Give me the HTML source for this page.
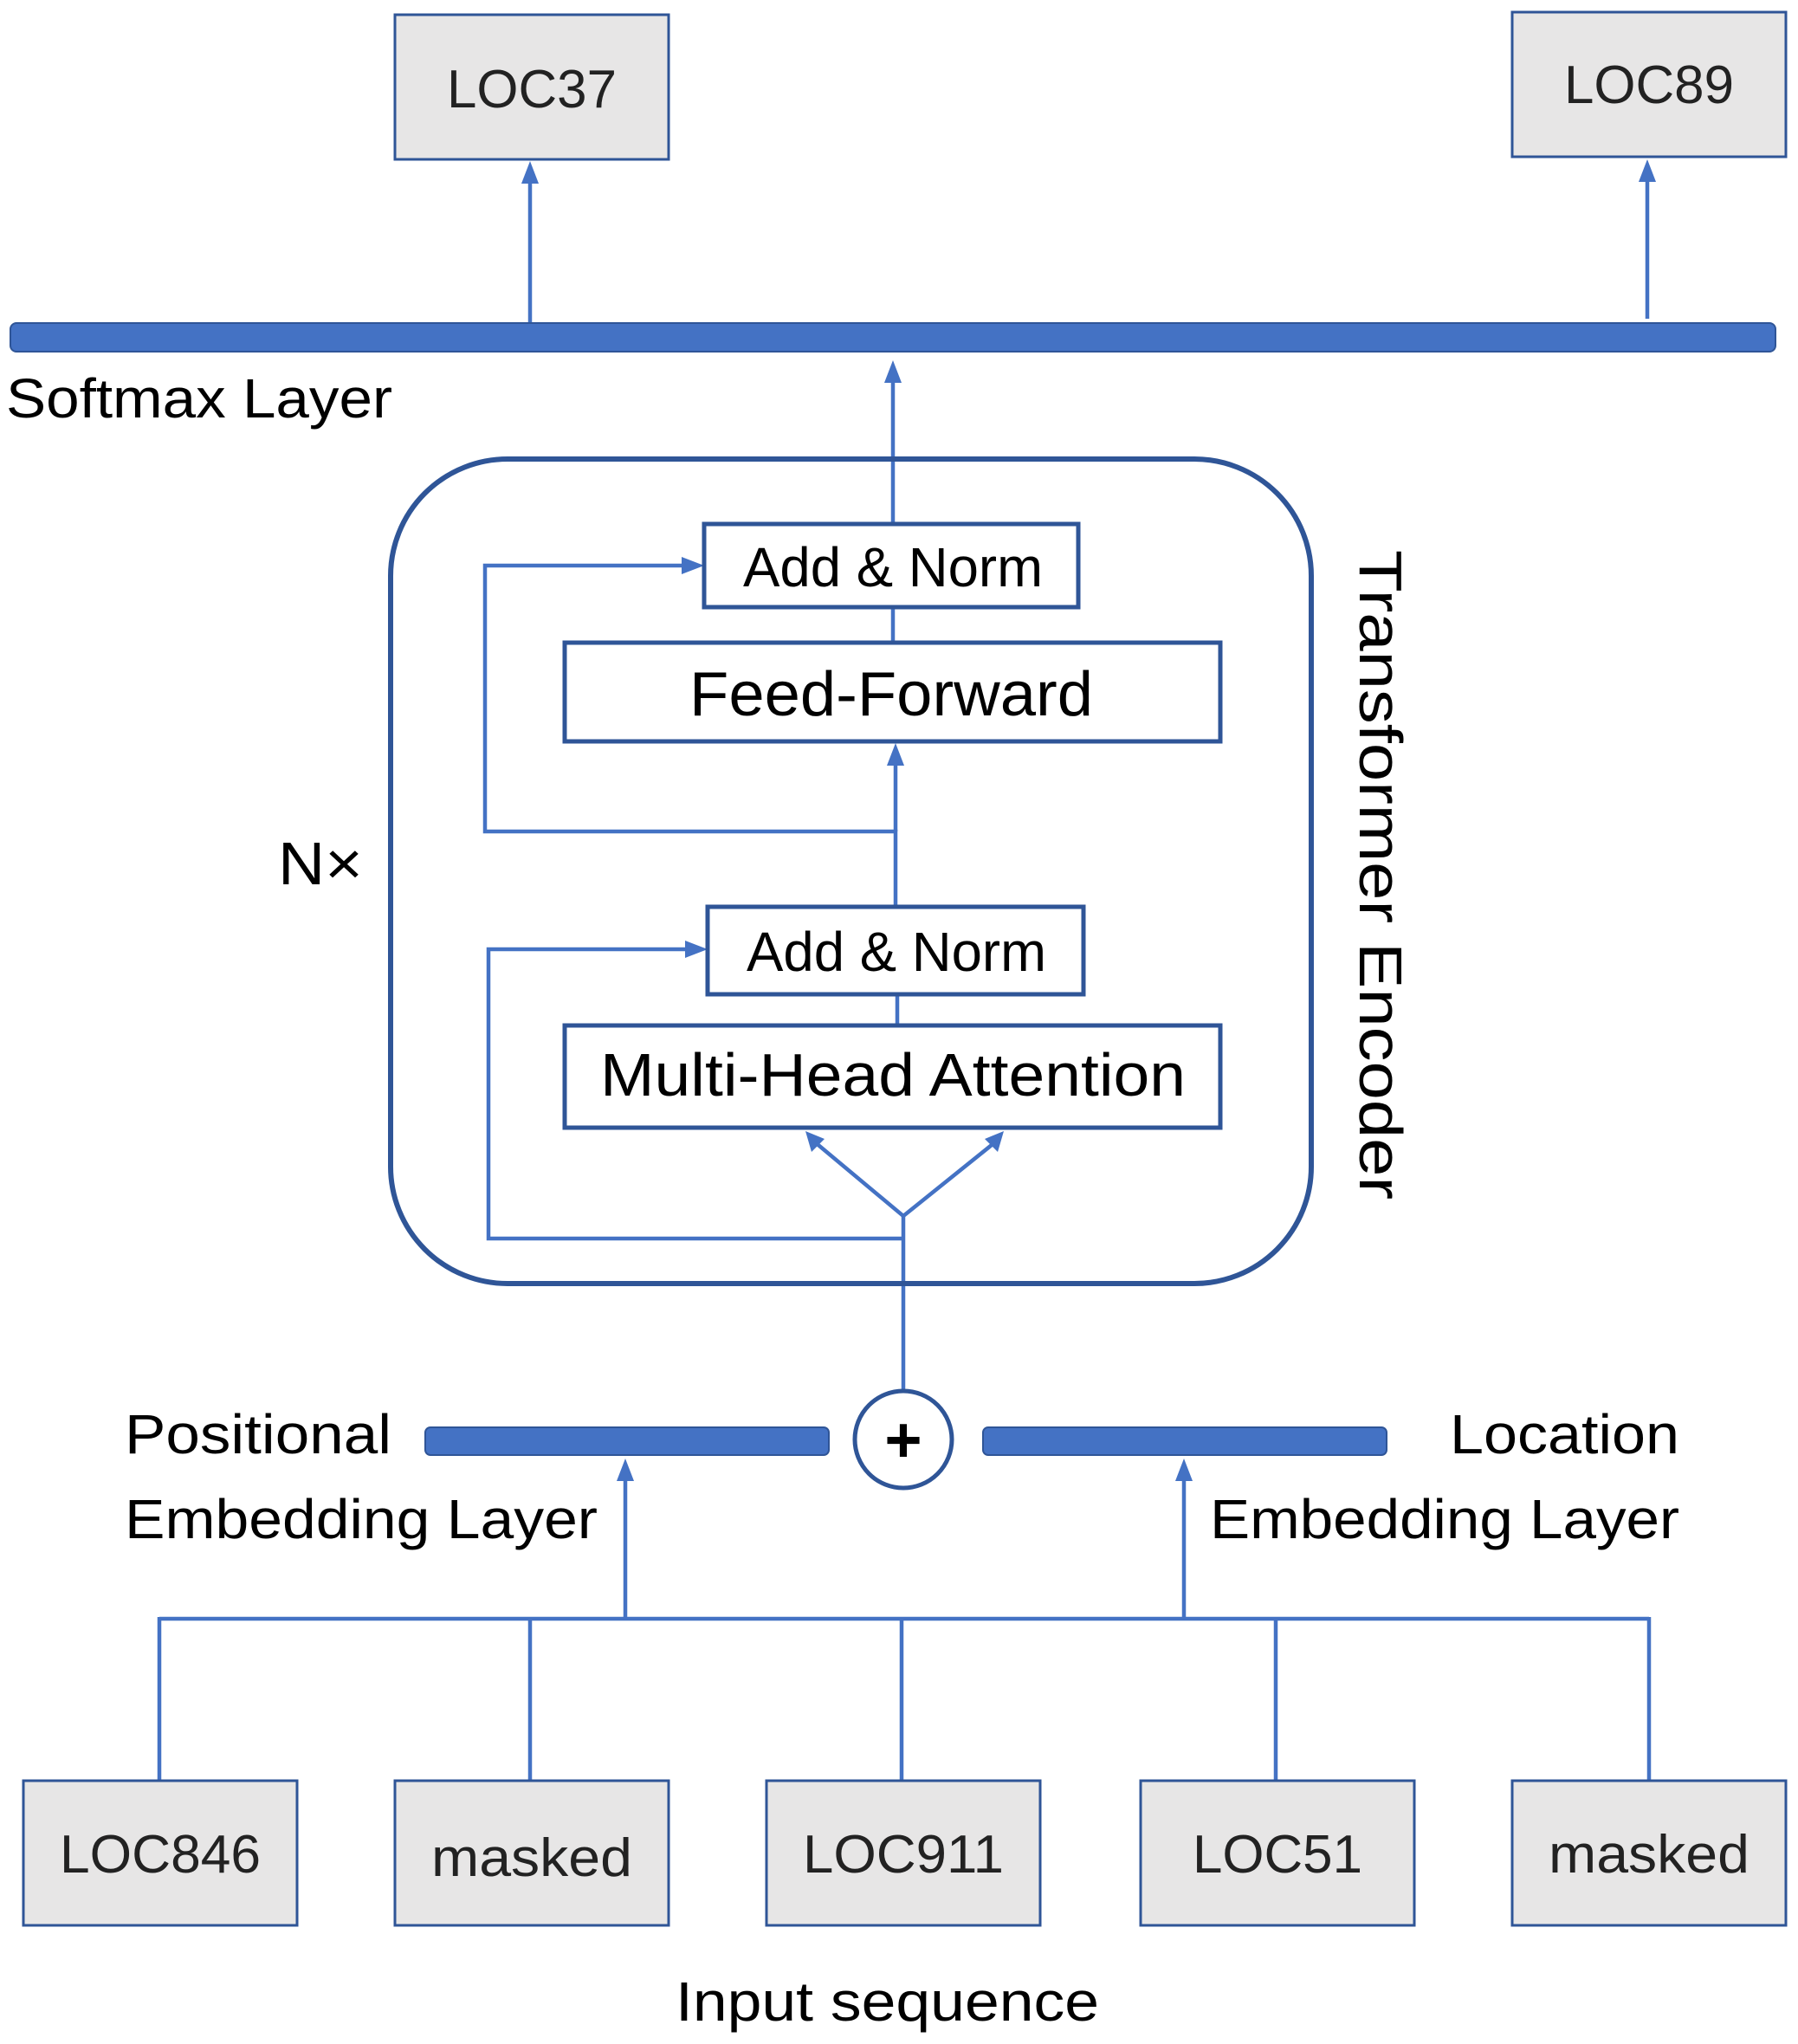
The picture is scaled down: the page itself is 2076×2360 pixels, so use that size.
<!DOCTYPE html>
<html><head><meta charset="utf-8"><style>html,body{margin:0;padding:0;background:#fff}svg{display:block}</style></head>
<body>
<svg width="2076" height="2360" viewBox="0 0 2076 2360" xmlns="http://www.w3.org/2000/svg" font-family="'Liberation Sans', sans-serif" fill="#000">
<defs>
<marker id="a" viewBox="0 0 10 10" refX="9" refY="5" markerWidth="6" markerHeight="6" orient="auto-start-reverse" markerUnits="userSpaceOnUse">
</marker>
</defs>
<g fill="#4472c4">
<!-- arrowheads as polygons -->
<polygon points="612,186 602,212 622,212"/>
<polygon points="1902,184 1892,210 1912,210"/>
<polygon points="1031,416 1021,442 1041,442"/>
<polygon points="1034,858 1024,884 1044,884"/>
<polygon points="813,653 787,643 787,663"/>
<polygon points="817,1096 791,1086 791,1106"/>
<polygon points="722,1684 712,1710 732,1710"/>
<polygon points="1367,1684 1357,1710 1377,1710"/>
<polygon points="930,1306 937,1330 952,1315"/>
<polygon points="1159,1306 1137,1315 1152,1330"/>
</g>
<g stroke="#4472c4" stroke-width="4.5" fill="none">
<line x1="612" y1="372" x2="612" y2="205"/>
<line x1="1902" y1="368" x2="1902" y2="205"/>
<line x1="1031" y1="605" x2="1031" y2="435"/>
<line x1="1031" y1="701" x2="1031" y2="742"/>
<polyline points="1034,1047 1034,960 560,960 560,653 795,653"/>
<line x1="1034" y1="960" x2="1034" y2="878"/>
<line x1="1036" y1="1148" x2="1036" y2="1184"/>
<polyline points="1043,1430 564,1430 564,1096 800,1096"/>
<line x1="1043" y1="1606" x2="1043" y2="1404"/>
<polyline points="940,1318 1043,1404 1150,1318"/>
<line x1="722" y1="1869" x2="722" y2="1700"/>
<line x1="1367" y1="1869" x2="1367" y2="1700"/>
<line x1="184" y1="1869" x2="1904" y2="1869"/>
<line x1="184" y1="1867" x2="184" y2="2056"/>
<line x1="612" y1="1869" x2="612" y2="2056"/>
<line x1="1041" y1="1869" x2="1041" y2="2056"/>
<line x1="1473" y1="1869" x2="1473" y2="2056"/>
<line x1="1904" y1="1867" x2="1904" y2="2056"/>
</g>
<rect x="12" y="373" width="2038" height="33" rx="7" fill="#4472c4" stroke="#2f5597" stroke-width="2"/>
<rect x="491" y="1648" width="466" height="32" rx="6" fill="#4472c4" stroke="#2f5597" stroke-width="2"/>
<rect x="1135" y="1648" width="466" height="32" rx="6" fill="#4472c4" stroke="#2f5597" stroke-width="2"/>
<circle cx="1043" cy="1662" r="56" fill="#fff" stroke="#2f5597" stroke-width="5"/>
<text x="1043" y="1688" font-size="74" font-weight="bold" text-anchor="middle">+</text>
<rect x="451" y="530" width="1063" height="952" rx="135" fill="none" stroke="#2f5597" stroke-width="6"/>
<g fill="#fff" stroke="#2f5597" stroke-width="5">
<rect x="813" y="605" width="432" height="96"/>
<rect x="652" y="742" width="757" height="114"/>
<rect x="817" y="1047" width="434" height="101"/>
<rect x="652" y="1184" width="757" height="118"/>
</g>
<g fill="#e7e6e6" stroke="#2f5597" stroke-width="3">
<rect x="456" y="17" width="316" height="167"/>
<rect x="1746" y="14" width="316" height="167"/>
<rect x="27" y="2056" width="316" height="167"/>
<rect x="456" y="2056" width="316" height="167"/>
<rect x="885" y="2056" width="316" height="167"/>
<rect x="1317" y="2056" width="316" height="167"/>
<rect x="1746" y="2056" width="316" height="167"/>
</g>
<g font-size="62" text-anchor="middle" fill="#222">
<text x="614" y="124" textLength="196" lengthAdjust="spacingAndGlyphs">LOC37</text>
<text x="1904" y="119" textLength="196" lengthAdjust="spacingAndGlyphs">LOC89</text>
<text x="185" y="2162" textLength="232" lengthAdjust="spacingAndGlyphs">LOC846</text>
<text x="614" y="2166" textLength="232" lengthAdjust="spacingAndGlyphs">masked</text>
<text x="1043" y="2162" textLength="232" lengthAdjust="spacingAndGlyphs">LOC911</text>
<text x="1475" y="2162" textLength="196" lengthAdjust="spacingAndGlyphs">LOC51</text>
<text x="1904" y="2162" textLength="232" lengthAdjust="spacingAndGlyphs">masked</text>
</g>
<g font-size="64" fill="#000">
<text x="7" y="482" textLength="446" lengthAdjust="spacingAndGlyphs">Softmax Layer</text>
<text x="858" y="677" textLength="346" lengthAdjust="spacingAndGlyphs">Add &amp; Norm</text>
<text x="796" y="826" font-size="72" textLength="466" lengthAdjust="spacingAndGlyphs">Feed-Forward</text>
<text x="862" y="1121" textLength="346" lengthAdjust="spacingAndGlyphs">Add &amp; Norm</text>
<text x="693" y="1265" font-size="70" textLength="676" lengthAdjust="spacingAndGlyphs">Multi-Head Attention</text>
<text x="321" y="1021" font-size="70" textLength="98" lengthAdjust="spacingAndGlyphs">N×</text>
<text x="144" y="1678" textLength="308" lengthAdjust="spacingAndGlyphs">Positional</text>
<text x="144" y="1776" textLength="546" lengthAdjust="spacingAndGlyphs">Embedding Layer</text>
<text x="1674" y="1678" textLength="265" lengthAdjust="spacingAndGlyphs">Location</text>
<text x="1397" y="1776" textLength="542" lengthAdjust="spacingAndGlyphs">Embedding Layer</text>
<text x="780" y="2333" textLength="489" lengthAdjust="spacingAndGlyphs">Input sequence</text>
<text transform="translate(1570,635) rotate(90)" x="0" y="0" font-size="70" textLength="750" lengthAdjust="spacingAndGlyphs">Transformer Encoder</text>
</g>
</svg>
</body></html>
